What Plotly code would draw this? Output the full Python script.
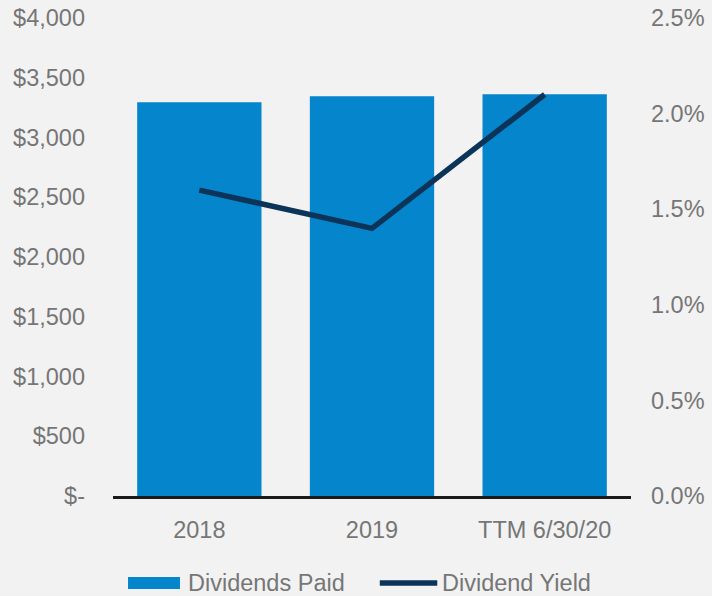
import plotly.graph_objects as go

categories = ["2018", "2019", "TTM 6/30/20"]
dividends_paid = [3295, 3345, 3362]
dividend_yield = [1.60, 1.40, 2.10]

left_ticks = [0, 500, 1000, 1500, 2000, 2500, 3000, 3500, 4000]
left_labels = ["$-", "$500", "$1,000", "$1,500", "$2,000", "$2,500", "$3,000", "$3,500", "$4,000"]
right_ticks = [0, 0.5, 1.0, 1.5, 2.0, 2.5]
right_labels = ["0.0%", "0.5%", "1.0%", "1.5%", "2.0%", "2.5%"]
legend_names = ["Dividends Paid", "Dividend Yield"]

BAR = "#0585cc"
LINE = "#0c3459"
TXT = "#767676"
BG = "#f2f2f2"
FONT = "Liberation Sans, Arial, sans-serif"
FS = 23.5

fig = go.Figure()
fig.add_trace(go.Bar(
    x=categories, y=dividends_paid, name=legend_names[0],
    marker=dict(color=BAR, line=dict(width=0)), width=0.72, yaxis="y",
))
fig.add_trace(go.Scatter(
    x=categories, y=dividend_yield, name=legend_names[1], mode="lines",
    line=dict(color=LINE, width=5.5), yaxis="y2",
))

# manual legend (wide swatches like the reference)
fig.add_shape(type="rect", xref="paper", yref="paper",
              x0=0.029, x1=0.1293, y0=-0.1946, y1=-0.1695,
              fillcolor=BAR, line=dict(width=0))
fig.add_annotation(text=legend_names[0], xref="paper", yref="paper",
                   x=0.1409, y=-0.181, xanchor="left", yanchor="middle",
                   showarrow=False, font=dict(size=FS, color=TXT))
fig.add_shape(type="line", xref="paper", yref="paper",
              x0=0.515, x1=0.626, y0=-0.182, y1=-0.182,
              line=dict(color=LINE, width=5.5))
fig.add_annotation(text=legend_names[1], xref="paper", yref="paper",
                   x=0.6313, y=-0.181, xanchor="left", yanchor="middle",
                   showarrow=False, font=dict(size=FS, color=TXT))

fig.update_layout(
    width=712, height=596,
    paper_bgcolor=BG, plot_bgcolor=BG,
    margin=dict(l=113, r=81, t=18, b=100, autoexpand=False),
    font=dict(family=FONT, size=FS, color=TXT),
    showlegend=False,
    xaxis=dict(
        type="category", range=[-0.5, 2.5], showgrid=False, zeroline=False,
        showline=True, linecolor="#1a1a1a", linewidth=3, ticks="",
        tickfont=dict(size=FS, color=TXT), ticklabelstandoff=11, automargin=False,
    ),
    yaxis=dict(
        range=[0, 4000], tickvals=left_ticks, ticktext=left_labels,
        showgrid=False, zeroline=False, showline=False, ticks="",
        tickfont=dict(size=FS, color=TXT), ticklabelstandoff=27, automargin=False,
    ),
    yaxis2=dict(
        overlaying="y", side="right", range=[0, 2.5],
        tickvals=right_ticks, ticktext=right_labels,
        showgrid=False, zeroline=False, showline=False, ticks="",
        tickfont=dict(size=FS, color=TXT), ticklabelstandoff=19, automargin=False,
    ),
)

fig.write_html("out.html", config={"displayModeBar": False},
               post_script="document.body.style.margin='0';")
